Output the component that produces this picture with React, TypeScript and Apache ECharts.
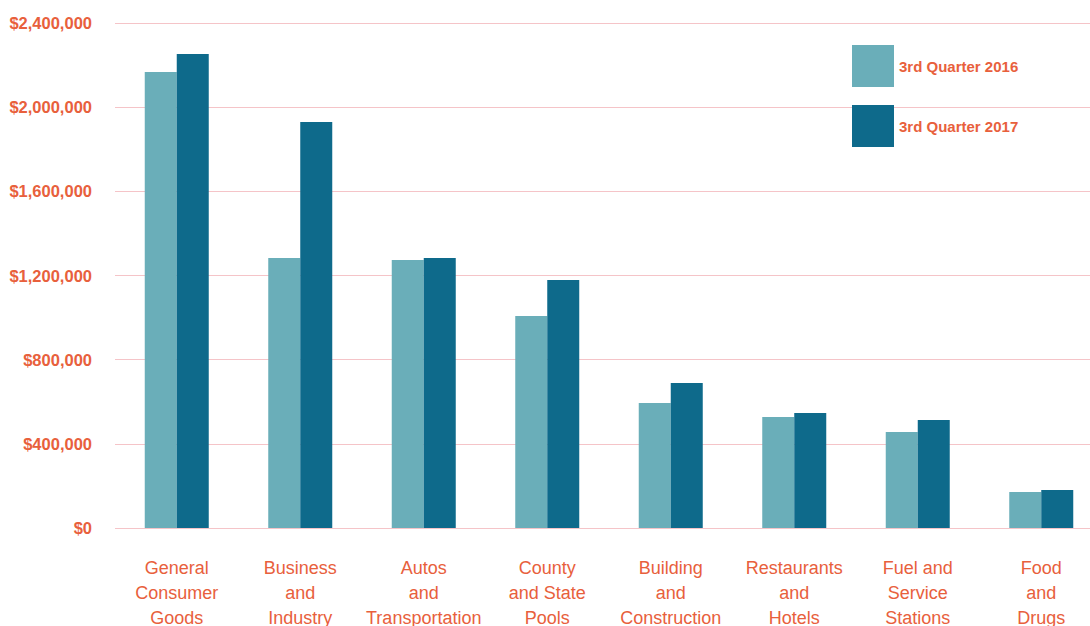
import React, { useEffect, useRef } from "react";
import * as echarts from "echarts";

const categories = [
  "General\nConsumer\nGoods",
  "Business\nand\nIndustry",
  "Autos\nand\nTransportation",
  "County\nand State\nPools",
  "Building\nand\nConstruction",
  "Restaurants\nand\nHotels",
  "Fuel and\nService\nStations",
  "Food\nand\nDrugs",
];
const seriesNames = ["3rd Quarter 2016", "3rd Quarter 2017"];
const q2016 = [2167000, 1283000, 1274000, 1008000, 594000, 528000, 456000, 171000];
const q2017 = [2253000, 1929000, 1283000, 1179000, 689000, 547000, 513000, 181000];
const yTicks = { min: 0, max: 2400000, interval: 400000 };

const ORANGE = "#e8603c";
const LIGHT = "#6aaeb9";
const DARK = "#0e6a8b";

export default function App() {
  const ref = useRef<HTMLDivElement>(null);
  useEffect(() => {
    if (!ref.current) return;
    const chart = echarts.init(ref.current, null, { renderer: "svg" });
    chart.setOption({
      animation: false,
      backgroundColor: "#ffffff",
      textStyle: { fontFamily: "Liberation Sans, Arial, sans-serif" },
      legend: {
        orient: "vertical",
        left: 852,
        top: 45,
        padding: 0,
        itemWidth: 42,
        itemHeight: 42,
        itemGap: 18,
        icon: "rect",
        textStyle: { color: ORANGE, fontSize: 15, fontWeight: "bold", padding: [2, 0, 0, 0] },
        data: seriesNames,
      },
      grid: {
        left: 115,
        top: 23,
        width: 988,
        height: 505,
        containLabel: false,
        outerBoundsMode: "none",
      },
      xAxis: {
        type: "category",
        data: categories,
        axisLine: { show: false },
        axisTick: { show: false },
        axisLabel: {
          color: ORANGE,
          fontSize: 18,
          lineHeight: 25,
          margin: 27,
          interval: 0,
        },
      },
      yAxis: {
        type: "value",
        min: yTicks.min,
        max: yTicks.max,
        interval: yTicks.interval,
        axisLine: { show: false },
        axisTick: { show: false },
        splitLine: { lineStyle: { color: "#f5c4c8", width: 1 } },
        axisLabel: {
          color: ORANGE,
          fontSize: 16.5,
          fontWeight: "bold",
          margin: 23,
          formatter: (v: number) => "$" + v.toLocaleString("en-US"),
        },
      },
      series: [
        {
          name: seriesNames[0],
          type: "bar",
          data: q2016,
          barWidth: 32,
          barGap: "0%",
          itemStyle: { color: LIGHT },
        },
        {
          name: seriesNames[1],
          type: "bar",
          data: q2017,
          barWidth: 32,
          barGap: "0%",
          itemStyle: { color: DARK },
        },
      ],
    });
    return () => chart.dispose();
  }, []);
  return (
    <div
      ref={ref}
      style={{ position: "absolute", left: 0, top: 0, width: 1090, height: 626 }}
    />
  );
}
